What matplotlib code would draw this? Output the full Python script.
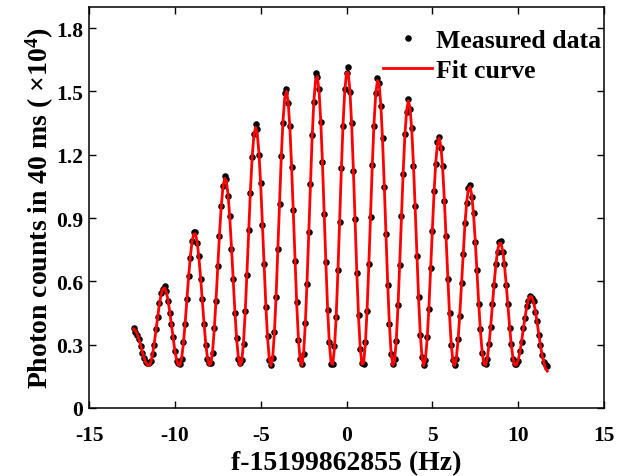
import numpy as np
import matplotlib
matplotlib.use("Agg")
import matplotlib.pyplot as plt

plt.rcParams['font.family'] = ['Liberation Serif', 'DejaVu Serif']
plt.rcParams['font.weight'] = 'bold'
plt.rcParams['mathtext.fontset'] = 'custom'
plt.rcParams['mathtext.rm'] = 'Liberation Serif:bold'
plt.rcParams['mathtext.it'] = 'Liberation Serif:bold'
plt.rcParams['mathtext.bf'] = 'Liberation Serif:bold'
plt.rcParams['axes.unicode_minus'] = False

# frequency scan grid (Hz, relative to 15199862855 Hz)
FREQ_START = -12.4
FREQ_STEP = 0.1

# fitted curve, photon counts (x10^4) at each scan frequency
fit_curve = [
    0.375, 0.368, 0.352, 0.328, 0.298, 0.268, 0.239, 0.217, 0.203,
    0.200, 0.216, 0.253, 0.306, 0.369, 0.433, 0.492, 0.538, 0.564, 0.569, 0.551, 0.512, 0.458, 0.395, 0.330, 0.273, 0.229, 0.204,
    0.203, 0.238, 0.306, 0.401, 0.509, 0.619, 0.715, 0.787, 0.825, 0.825, 0.787, 0.715, 0.619, 0.509, 0.401, 0.306, 0.238, 0.203,
    0.210, 0.269, 0.375, 0.513, 0.668, 0.821, 0.951, 1.044, 1.088, 1.076, 1.012, 0.903, 0.761, 0.606, 0.455, 0.327, 0.239, 0.201,
    0.222, 0.310, 0.454, 0.637, 0.835, 1.024, 1.182, 1.288, 1.330, 1.302, 1.208, 1.059, 0.874, 0.676, 0.488, 0.335, 0.235, 0.200,
    0.240, 0.355, 0.532, 0.747, 0.975, 1.188, 1.359, 1.468, 1.500, 1.452, 1.330, 1.148, 0.930, 0.702, 0.493, 0.327, 0.226,
    0.202, 0.261, 0.397, 0.594, 0.827, 1.067, 1.286, 1.455, 1.554, 1.571, 1.504, 1.361, 1.159, 0.924, 0.684, 0.470, 0.307, 0.215,
    0.207, 0.284, 0.436, 0.646, 0.888, 1.130, 1.345, 1.504, 1.589, 1.589, 1.504, 1.345, 1.130, 0.888, 0.646, 0.436, 0.284, 0.207,
    0.215, 0.305, 0.466, 0.677, 0.913, 1.145, 1.344, 1.485, 1.551, 1.534, 1.437, 1.270, 1.055, 0.818, 0.588, 0.394, 0.260, 0.202,
    0.225, 0.322, 0.482, 0.685, 0.905, 1.115, 1.290, 1.408, 1.455, 1.424, 1.319, 1.154, 0.948, 0.728, 0.520, 0.350, 0.239, 0.200,
    0.233, 0.329, 0.476, 0.655, 0.844, 1.021, 1.163, 1.253, 1.280, 1.240, 1.138, 0.988, 0.807, 0.617, 0.443, 0.305, 0.221,
    0.201, 0.238, 0.322, 0.444, 0.588, 0.736, 0.871, 0.976, 1.037, 1.048, 1.006, 0.917, 0.793, 0.647, 0.499, 0.367, 0.266, 0.210,
    0.203, 0.235, 0.299, 0.387, 0.487, 0.589, 0.678, 0.745, 0.780, 0.780, 0.745, 0.678, 0.589, 0.487, 0.387, 0.299, 0.235, 0.203,
    0.204, 0.226, 0.265, 0.316, 0.374, 0.430, 0.479, 0.513, 0.529, 0.525, 0.501, 0.461, 0.408, 0.350, 0.295, 0.247, 0.215, 0.185,
    0.175,
]

# measured photon counts (x10^4) at each scan frequency
measured = [
    0.378, 0.362, 0.347, 0.325, 0.292, 0.262, 0.236, 0.219, 0.212,
    0.214, 0.222, 0.258, 0.300, 0.372, 0.430, 0.498, 0.545, 0.566, 0.578, 0.556, 0.506, 0.452, 0.398, 0.336, 0.270, 0.222, 0.212,
    0.208, 0.232, 0.312, 0.398, 0.515, 0.624, 0.710, 0.792, 0.832, 0.835, 0.780, 0.722, 0.612, 0.515, 0.396, 0.300, 0.232, 0.212,
    0.214, 0.262, 0.381, 0.508, 0.674, 0.816, 0.958, 1.050, 1.100, 1.085, 1.004, 0.908, 0.755, 0.612, 0.448, 0.332, 0.232, 0.212,
    0.226, 0.305, 0.460, 0.630, 0.842, 1.018, 1.190, 1.296, 1.345, 1.322, 1.200, 1.065, 0.866, 0.682, 0.480, 0.340, 0.228, 0.205,
    0.236, 0.362, 0.526, 0.754, 0.968, 1.196, 1.352, 1.492, 1.512, 1.445, 1.338, 1.140, 0.938, 0.695, 0.500, 0.320, 0.230,
    0.208, 0.255, 0.404, 0.588, 0.835, 1.060, 1.294, 1.448, 1.588, 1.566, 1.512, 1.354, 1.166, 0.918, 0.690, 0.464, 0.312, 0.210,
    0.210, 0.292, 0.430, 0.652, 0.880, 1.138, 1.338, 1.512, 1.585, 1.618, 1.498, 1.352, 1.122, 0.895, 0.640, 0.442, 0.278, 0.212,
    0.210, 0.312, 0.460, 0.684, 0.906, 1.152, 1.338, 1.492, 1.562, 1.540, 1.430, 1.277, 1.048, 0.825, 0.582, 0.400, 0.255, 0.208,
    0.230, 0.316, 0.488, 0.678, 0.912, 1.108, 1.298, 1.402, 1.462, 1.418, 1.326, 1.148, 0.955, 0.722, 0.526, 0.344, 0.244, 0.206,
    0.228, 0.335, 0.470, 0.662, 0.838, 1.028, 1.156, 1.260, 1.285, 1.233, 1.145, 0.982, 0.814, 0.610, 0.450, 0.300, 0.226,
    0.206, 0.233, 0.328, 0.438, 0.594, 0.730, 0.878, 0.970, 1.044, 1.055, 1.000, 0.924, 0.786, 0.654, 0.492, 0.372, 0.260, 0.215,
    0.208, 0.230, 0.305, 0.382, 0.493, 0.584, 0.684, 0.740, 0.786, 0.790, 0.740, 0.684, 0.583, 0.493, 0.381, 0.305, 0.230, 0.208,
    0.209, 0.222, 0.270, 0.311, 0.380, 0.425, 0.485, 0.508, 0.532, 0.520, 0.506, 0.456, 0.414, 0.345, 0.300, 0.250, 0.220, 0.205,
    0.198,
]

freq = np.round(FREQ_START + FREQ_STEP * np.arange(len(measured)), 2)

x_ticks = [-15, -10, -5, 0, 5, 10, 15]
x_tick_labels = ['-15', '-10', '-5', '0', '5', '10', '15']
y_ticks = [0, 0.3, 0.6, 0.9, 1.2, 1.5, 1.8]
y_tick_labels = ['0', '0.3', '0.6', '0.9', '1.2', '1.5', '1.8']

fig = plt.figure(figsize=(6.31, 4.77), dpi=100)
ax = fig.add_axes([89 / 631, 68 / 477, (604 - 89) / 631, (409 - 8) / 477])

ax.plot(freq, measured, 'o', color='black', markersize=4.7, markeredgewidth=0,
        label='Measured data', zorder=2)
ax.plot(freq, fit_curve, '-', color='red', linewidth=2.0, label='Fit curve', zorder=3)

ax.set_xlim(-15, 15)
ax.set_ylim(0, 1.9)
ax.set_xticks(x_ticks)
ax.set_xticklabels(x_tick_labels)
ax.set_yticks(y_ticks)
ax.set_yticklabels(y_tick_labels)
ax.tick_params(direction='in', top=True, right=True, length=5, width=1,
               labelsize=15.5)
ax.tick_params(axis='x', pad=12)
ax.tick_params(axis='y', pad=4)
for lab in ax.get_xticklabels() + ax.get_yticklabels():
    lab.set_fontweight('bold')
for sp in ax.spines.values():
    sp.set_linewidth(1.1)

ax.set_xlabel('f-15199862855 (Hz)', fontsize=20, fontweight='bold', labelpad=4)
ax.set_ylabel(r'Photon counts in 40 ms ( $\times$10$^{4}$)', fontsize=20,
              fontweight='bold', labelpad=0.5)

leg = ax.legend(loc='upper right', bbox_to_anchor=(1.014, 0.97), frameon=False,
                fontsize=18.5, handlelength=1.9, handletextpad=0.15,
                labelspacing=0.25, borderaxespad=0.0, markerscale=1.0)
for t in leg.get_texts():
    t.set_fontweight('bold')

fig.savefig('out.png', dpi=100)
